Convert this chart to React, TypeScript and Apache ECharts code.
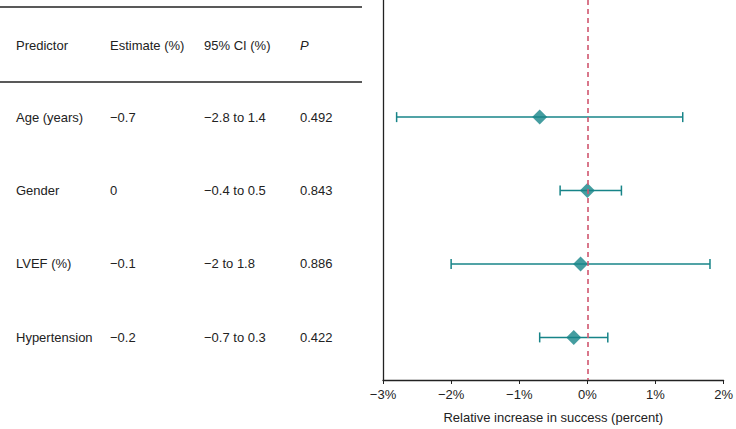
import React, { useEffect, useRef } from "react";
import * as echarts from "echarts";

const predictors = ["Age (years)", "Gender", "LVEF (%)", "Hypertension"];
const estimates = [-0.7, 0, -0.1, -0.2];
const ciLower = [-2.8, -0.4, -2, -0.7];
const ciUpper = [1.4, 0.5, 1.8, 0.3];
const pValues = ["0.492", "0.843", "0.886", "0.422"];
const headers = ["Predictor", "Estimate (%)", "95% CI (%)", "P"];
const xTicks = [-3, -2, -1, 0, 1, 2];
const axisTitle = "Relative increase in success (percent)";

const TEAL = "#178488";
const FONT = "Liberation Sans, Arial, Helvetica, sans-serif";

const fmt = (v: number) => (v < 0 ? "\u2212" + Math.abs(v) : String(v));

export default function App() {
  const ref = useRef<HTMLDivElement>(null);
  useEffect(() => {
    if (!ref.current) return;
    const chart = echarts.init(ref.current, undefined, { renderer: "svg" });
    const rows = predictors.map((_, i) => i + 1);
    chart.setOption({
      animation: false,
      grid: { left: 383, right: 9, top: 0, bottom: 46 },
      xAxis: {
        type: "value",
        min: xTicks[0],
        max: xTicks[xTicks.length - 1],
        interval: 1,
        splitLine: { show: false },
        axisLine: { show: true, onZero: false, lineStyle: { color: "#222", width: 1.3 } },
        axisTick: { show: true, length: 4, lineStyle: { color: "#222" } },
        axisLabel: {
          color: "#222",
          fontSize: 13,
          fontFamily: FONT,
          margin: 8,
          formatter: (v: number) => fmt(v) + "%",
        },
        name: axisTitle,
        nameLocation: "middle",
        nameGap: 31,
        nameTextStyle: { color: "#222", fontSize: 13, fontFamily: FONT },
      },
      yAxis: {
        type: "value",
        inverse: true,
        min: -0.595,
        max: 4.58,
        splitLine: { show: false },
        axisLabel: { show: false },
        axisTick: { show: false },
        axisLine: { show: true, onZero: false, lineStyle: { color: "#222", width: 1.3 } },
      },
      series: [
        {
          type: "custom",
          data: rows.map((r, i) => [ciLower[i], ciUpper[i], r]),
          renderItem: (params: any, api: any) => {
            const lo = api.coord([api.value(0), api.value(2)]);
            const hi = api.coord([api.value(1), api.value(2)]);
            const h = 5;
            const style = { stroke: TEAL, lineWidth: 1.5, fill: "none" };
            return {
              type: "group",
              children: [
                { type: "line", shape: { x1: lo[0], y1: lo[1], x2: hi[0], y2: hi[1] }, style },
                { type: "line", shape: { x1: lo[0], y1: lo[1] - h, x2: lo[0], y2: lo[1] + h }, style },
                { type: "line", shape: { x1: hi[0], y1: hi[1] - h, x2: hi[0], y2: hi[1] + h }, style },
              ],
            };
          },
          z: 3,
        },
        {
          type: "scatter",
          symbol: "diamond",
          symbolSize: [15, 15],
          itemStyle: { color: TEAL },
          data: rows.map((r, i) => [estimates[i], r]),
          z: 4,
          markLine: {
            silent: true,
            symbol: "none",
            label: { show: false },
            lineStyle: { color: "#d0566f", type: [5, 4], width: 1.6 },
            data: [{ xAxis: 0 }],
          },
        },
      ],
    });

    const rowY = rows.map((r) => chart.convertToPixel({ yAxisIndex: 0 }, r) as number);
    const colX = [16, 110, 204, 300];
    const textStyle = (t: string, italic = false) => ({
      text: t,
      fill: "#222",
      fontSize: 13,
      fontFamily: FONT,
      fontStyle: italic ? "italic" : "normal",
      verticalAlign: "middle",
      align: "left",
    });
    const graphic: any[] = [
      { type: "line", shape: { x1: 0, y1: 7, x2: 362, y2: 7 }, style: { stroke: "#222", lineWidth: 1.3 } },
      { type: "line", shape: { x1: 0, y1: 82, x2: 362, y2: 82 }, style: { stroke: "#222", lineWidth: 1.3 } },
    ];
    headers.forEach((h, j) => {
      graphic.push({ type: "text", x: colX[j], y: 45, style: textStyle(h, j === 3) });
    });
    predictors.forEach((p, i) => {
      const y = rowY[i];
      graphic.push({ type: "text", x: colX[0], y, style: textStyle(p) });
      graphic.push({ type: "text", x: colX[1], y, style: textStyle(fmt(estimates[i])) });
      graphic.push({ type: "text", x: colX[2], y, style: textStyle(fmt(ciLower[i]) + " to " + fmt(ciUpper[i])) });
      graphic.push({ type: "text", x: colX[3], y, style: textStyle(pValues[i]) });
    });
    chart.setOption({ graphic });

    return () => chart.dispose();
  }, []);
  return (
    <div
      ref={ref}
      style={{ position: "fixed", left: 0, top: 0, width: 736, height: 429, background: "#fff" }}
    />
  );
}
